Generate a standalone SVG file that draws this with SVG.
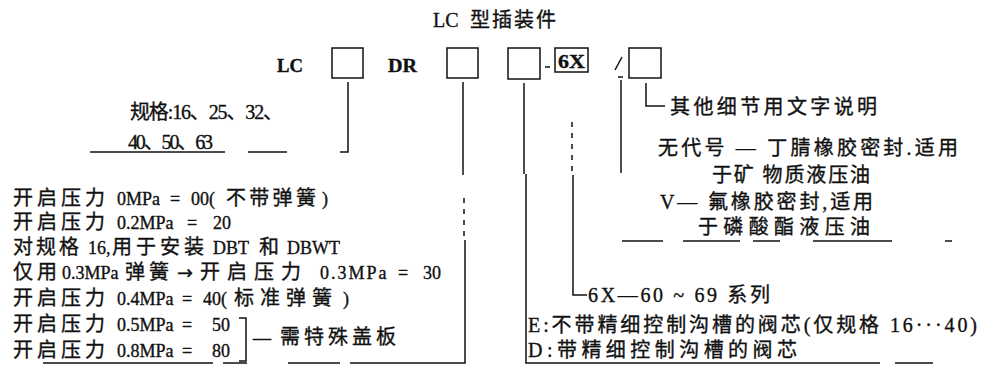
<svg xmlns="http://www.w3.org/2000/svg" width="984" height="366" viewBox="0 0 984 366">
<style>
.t{font-family:"Liberation Serif","Noto Sans CJK SC",serif;font-size:18px;fill:#111;stroke:#111;stroke-width:0.35}
.r{font-size:20px}
.c{font-size:20px;letter-spacing:4px}
.b{font-weight:bold;font-size:18px}
.ar{font-family:"DejaVu Sans",sans-serif;font-size:19px}
.ln{stroke:#111;stroke-width:1.5;fill:none}
.dl{stroke:#111;stroke-width:1.5;fill:none;stroke-dasharray:5 6}
.bx{stroke:#111;stroke-width:1.5;fill:none}
</style>
<rect width="984" height="366" fill="#fff"/>
<g id="title"><text class="t" y="27"><tspan x="433" font-size="20">LC </tspan><tspan x="470" class="c" style="letter-spacing:2px">型插装件</tspan></text></g>
<g id="code-lc"><text class="t b" x="277" y="72" textLength="26" lengthAdjust="spacingAndGlyphs">LC</text></g>
<g id="box-size"><rect class="bx" x="332" y="48" width="31" height="30"/></g>
<g id="code-dr"><text class="t b" x="388" y="72" textLength="29" lengthAdjust="spacingAndGlyphs">DR</text></g>
<g id="box-pressure"><rect class="bx" x="447" y="48" width="31" height="30"/></g>
<g id="box-spool"><rect class="bx" x="508" y="48" width="32" height="31"/></g>
<g id="dash"><line class="ln" x1="545" y1="67" x2="550" y2="67"/></g>
<g id="box-series"><rect class="bx" x="555" y="48" width="33" height="24"/><text class="t b" x="558" y="68" textLength="27" lengthAdjust="spacingAndGlyphs">6X</text></g>
<g id="box-seal"><line class="ln" x1="622" y1="57" x2="615" y2="70"/><line class="ln" x1="618" y1="77" x2="623" y2="77"/></g>
<g id="box-other"><rect class="bx" x="629" y="48" width="32" height="30"/></g>

<g id="desc-size">
<text class="t r" x="130" y="119" textLength="153" lengthAdjust="spacing">规格:16、25、32、</text>
<text class="t r" x="128" y="149" textLength="85" lengthAdjust="spacing">40、50、63</text>
</g>
<g id="desc-pressure">
<text class="t" y="205"><tspan x="13" class="c">开启压力</tspan><tspan x="112.5"> 0MPa</tspan><tspan x="165.5"> =</tspan><tspan x="186.5"> 00(</tspan><tspan x="226" class="c" style="letter-spacing:3.3px">不带弹簧</tspan><tspan x="322">)</tspan></text>
<text class="t" y="229"><tspan x="13" class="c">开启压力</tspan><tspan x="112.5"> 0.2MPa</tspan><tspan x="182.5"> =</tspan><tspan x="208.5"> 20</tspan></text>
<text class="t" y="254"><tspan x="13" class="c" style="letter-spacing:3px">对规格</tspan><tspan x="83.5"> 16,</tspan><tspan x="112" class="c">用于安装</tspan><tspan x="208.5"> DBT</tspan><tspan x="259" class="c">和</tspan><tspan x="282.5"> DBWT</tspan></text>
<text class="t" y="279"><tspan x="13" class="c">仅用</tspan><tspan x="57.5"> 0.3MPa </tspan><tspan x="125" class="c">弹簧</tspan><tspan x="172.5"> <tspan class="ar">→</tspan> </tspan><tspan x="200" class="c" style="letter-spacing:7px">开启压力</tspan><tspan x="313.5" style="letter-spacing:2px"> 0.3MPa</tspan><tspan x="393.5"> =</tspan><tspan x="418.5"> 30</tspan></text>
<text class="t" y="305"><tspan x="13" class="c">开启压力</tspan><tspan x="112.5"> 0.4MPa</tspan><tspan x="177.5"> =</tspan><tspan x="198.5"> 40(</tspan><tspan x="234" class="c" style="letter-spacing:6px">标准弹簧</tspan><tspan x="343">)</tspan></text>
<text class="t" y="331"><tspan x="13" class="c">开启压力</tspan><tspan x="112.5"> 0.5MPa</tspan><tspan x="177.5"> =</tspan><tspan x="207.5"> 50</tspan></text>
<text class="t" y="357"><tspan x="13" class="c">开启压力</tspan><tspan x="112.5"> 0.8MPa</tspan><tspan x="177.5"> =</tspan><tspan x="207.5"> 80</tspan></text>
<path class="ln" d="M239,318 H246 V361 H239"/>
<text class="t" y="344"><tspan x="253">— </tspan><tspan x="280" class="c">需特殊盖板</tspan></text>
</g>
<g id="desc-spool">
<text class="t r" x="528" y="332" textLength="449" lengthAdjust="spacing">E:不带精细控制沟槽的阀芯(仅规格 16···40)</text>
<text class="t r" x="528" y="357" textLength="269" lengthAdjust="spacing">D:带精细控制沟槽的阀芯</text>
</g>
<g id="desc-series">
<text class="t r" x="588" y="302" textLength="182" lengthAdjust="spacing">6X—60 ~ 69 系列</text>
</g>
<g id="desc-seal">
<text class="t r" x="658" y="155" textLength="300" lengthAdjust="spacing">无代号 — 丁腈橡胶密封.适用</text>
<text class="t r" x="712" y="182" textLength="158" lengthAdjust="spacing">于矿 物质液压油</text>
<text class="t r" x="660" y="209" textLength="213" lengthAdjust="spacing">V— 氟橡胶密封,适用</text>
<text class="t r" x="698" y="234" textLength="172" lengthAdjust="spacing">于磷酸酯液压油</text>
</g>
<g id="desc-other">
<text class="t r" x="670" y="114" textLength="207" lengthAdjust="spacing">其他细节用文字说明</text>
</g>

<g id="connectors">
<path class="ln" d="M348,82 V152 H340"/>
<line class="ln" x1="90" y1="152" x2="225" y2="152"/>
<line class="ln" x1="248" y1="152" x2="287" y2="152"/>
<line class="ln" x1="463" y1="82" x2="463" y2="175"/>
<line class="dl" x1="464" y1="198" x2="464" y2="240"/>
<path class="ln" d="M465,240 V363 H350"/>
<line class="ln" x1="288" y1="363" x2="340" y2="363"/>
<line class="ln" x1="223" y1="363" x2="247" y2="363"/>
<line class="ln" x1="43" y1="363" x2="213" y2="363"/>
<line class="ln" x1="524" y1="83" x2="524" y2="174"/>
<path class="ln" d="M526,174 V363 H880"/>
<line class="ln" x1="895" y1="363" x2="933" y2="363"/>
<line class="dl" x1="572" y1="122" x2="572" y2="172"/>
<path class="ln" d="M573,175 V295 H587"/>
<line class="ln" x1="621" y1="80" x2="621" y2="173"/>
<line class="ln" x1="622" y1="241" x2="663" y2="241"/>
<line class="ln" x1="683" y1="241" x2="740" y2="241"/>
<line class="ln" x1="753" y1="241" x2="780" y2="241"/>
<line class="ln" x1="813" y1="241" x2="892" y2="241"/>
<line class="ln" x1="945" y1="241" x2="952" y2="241"/>
<path class="ln" d="M646,83 V106 H665"/>
</g>
</svg>
